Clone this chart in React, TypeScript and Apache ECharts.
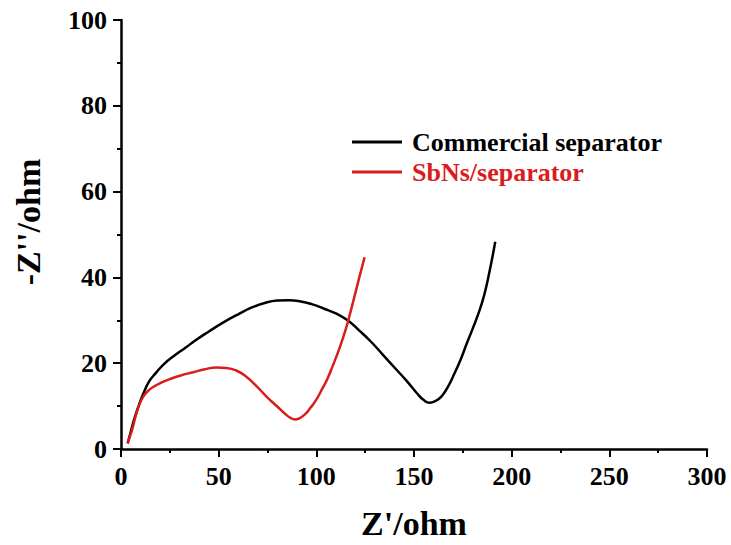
import React, { useEffect, useRef } from "react";
import * as echarts from "echarts";

// Nyquist plot data: Z' (ohm) and -Z'' (ohm)
const commercialX = [3.4, 5, 6.8, 9, 11.5, 14.5, 18, 22, 27.7, 33, 38, 45, 52, 60, 67, 74, 80, 86, 92, 98, 104, 110, 116, 122, 128, 134, 140, 146, 151.5, 155, 158, 161, 164, 167, 170, 174, 177, 180, 183, 186, 188.5, 191.6];
const commercialY = [1.3, 4, 7, 10, 13, 15.8, 17.8, 19.8, 21.9, 23.6, 25.3, 27.4, 29.4, 31.4, 33, 34.1, 34.6, 34.7, 34.4, 33.7, 32.7, 31.6, 30, 27.6, 25, 22, 19, 16, 13, 11.4, 10.8, 11.2, 12.2, 14.2, 16.9, 21, 24.6, 28, 31.6, 36, 41, 48.3];

const sbnsX = [3.4, 5, 6.3, 8, 10, 12, 14, 17, 20.8, 25, 31, 37, 43, 49, 54, 59, 64, 69.5, 75, 80, 84, 87, 89, 91, 94, 97, 100, 103, 105.4, 108.5, 112, 115, 117.3, 120, 122, 124.7];
const sbnsY = [1.3, 3.5, 5.5, 8.5, 11, 12.6, 13.6, 14.6, 15.5, 16.3, 17.2, 17.9, 18.6, 19, 18.9, 18.3, 16.9, 14.6, 12, 9.9, 8.2, 7.2, 6.9, 7.1, 8, 9.6, 11.5, 14, 16.1, 19.5, 23.7, 27.8, 31.6, 36.4, 40, 44.7];

const seriesNames = ["Commercial separator", "SbNs/separator"];
const seriesColors = ["#000000", "#d91c1c"];
const xTitle = "Z'/ohm";
const yTitle = "-Z''/ohm";

const pair = (xs: number[], ys: number[]) => xs.map((x, i) => [x, ys[i]]);

const FONT = "'Liberation Serif', 'Times New Roman', serif";

export default function App() {
  const ref = useRef<HTMLDivElement>(null);

  useEffect(() => {
    if (!ref.current) return;
    const chart = echarts.init(ref.current, undefined, { renderer: "svg" });
    const axisCommon = {
      axisLine: { show: true, lineStyle: { color: "#000", width: 2.5 } },
      axisTick: { show: true, inside: false, length: 8, lineStyle: { color: "#000", width: 2 } },
      minorTick: { show: true, splitNumber: 2, length: 4, lineStyle: { color: "#000", width: 2 } },
      splitLine: { show: false },
      axisLabel: { color: "#000", fontFamily: FONT, fontWeight: "bold", fontSize: 26, margin: 14 },
    };
    chart.setOption({
      animation: false,
      backgroundColor: "#fff",
      grid: { left: 121, right: 24, top: 20, bottom: 96, containLabel: false },
      xAxis: { type: "value", min: 0, max: 300, interval: 50, ...axisCommon },
      yAxis: { type: "value", min: 0, max: 100, interval: 20, ...axisCommon },
      legend: {
        orient: "vertical",
        left: 352,
        top: 128,
        padding: 0,
        itemWidth: 50,
        itemHeight: 3,
        itemGap: 2,
        icon: "rect",
        data: seriesNames.map((name, i) => ({
          name,
          itemStyle: { color: seriesColors[i] },
          textStyle: { color: seriesColors[i] },
        })),
        textStyle: { fontFamily: FONT, fontWeight: "bold", fontSize: 26, lineHeight: 28, padding: [0, 0, 0, 5] },
      },
      graphic: [
        {
          type: "text",
          x: 414,
          y: 523,
          style: {
            text: xTitle,
            align: "center",
            verticalAlign: "middle",
            fontFamily: FONT,
            fontWeight: "bold",
            fontSize: 34,
            fill: "#000",
          },
        },
        {
          type: "text",
          x: 28,
          y: 222,
          rotation: Math.PI / 2,
          style: {
            text: yTitle,
            align: "center",
            verticalAlign: "middle",
            fontFamily: FONT,
            fontWeight: "bold",
            fontSize: 34,
            fill: "#000",
          },
        },
      ],
      series: [
        {
          name: seriesNames[0],
          type: "line",
          data: pair(commercialX, commercialY),
          smooth: 0.5,
          symbol: "none",
          lineStyle: { color: seriesColors[0], width: 2.5 },
          itemStyle: { color: seriesColors[0] },
        },
        {
          name: seriesNames[1],
          type: "line",
          data: pair(sbnsX, sbnsY),
          smooth: 0.5,
          symbol: "none",
          lineStyle: { color: seriesColors[1], width: 2.5 },
          itemStyle: { color: seriesColors[1] },
        },
      ],
    });
    return () => chart.dispose();
  }, []);

  return <div ref={ref} style={{ width: 731, height: 545, position: "absolute", left: 0, top: 0 }} />;
}
